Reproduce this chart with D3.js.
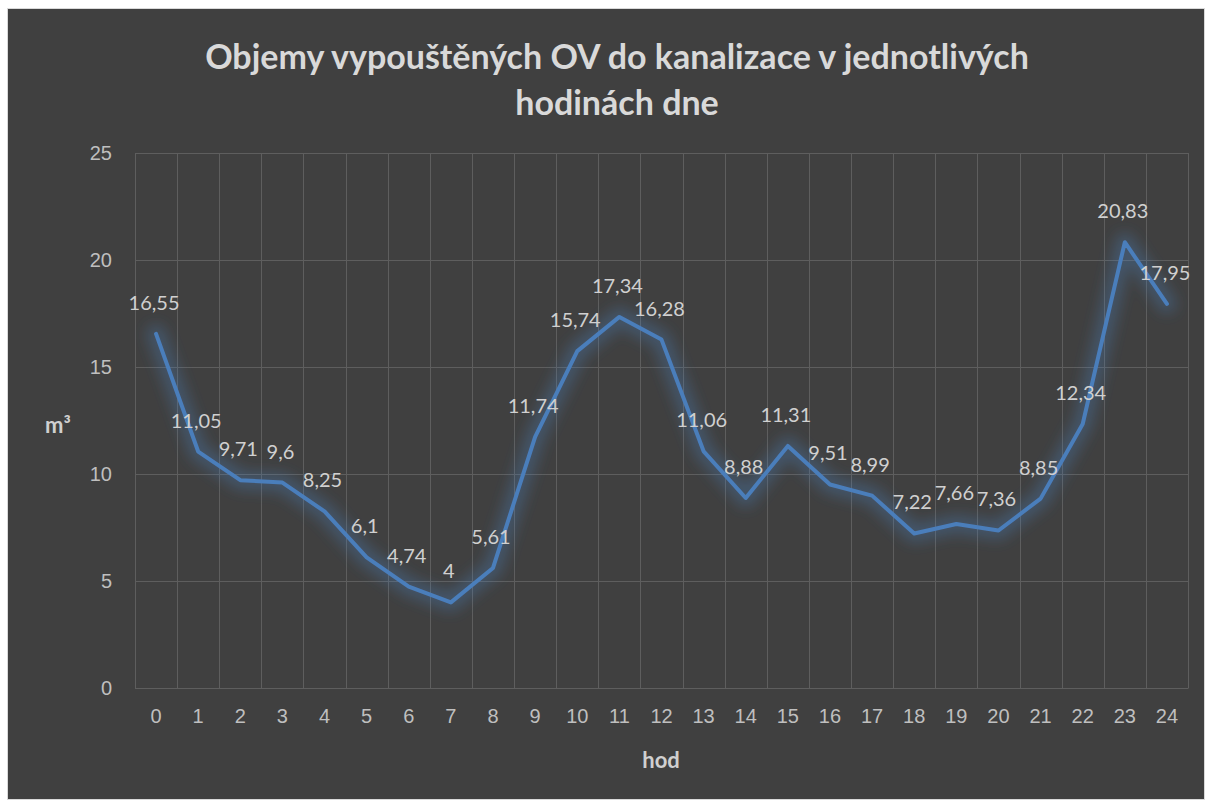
<!DOCTYPE html>
<html lang="cs">
<head>
<meta charset="UTF-8">
<title>Objemy vypouštěných OV</title>
<script src="https://d3js.org/d3.v7.min.js"></script>
<style>
  body { margin: 0; background: #ffffff; }
  svg { display: block; font-family: Lato, "Open Sans", sans-serif; }
</style>
</head>
<body>
<script>
// hours of the day and discharged volume (m³)
const hours = ["0","1","2","3","4","5","6","7","8","9","10","11","12","13","14","15","16","17","18","19","20","21","22","23","24"];
const volumes = [16.55, 11.05, 9.71, 9.6, 8.25, 6.1, 4.74, 4, 5.61, 11.74, 15.74, 17.34, 16.28, 11.06, 8.88, 11.31, 9.51, 8.99, 7.22, 7.66, 7.36, 8.85, 12.34, 20.83, 17.95];
const yTicks = [0, 5, 10, 15, 20, 25];

const W = 1206, H = 800;
const margin = { top: 153, right: 18, bottom: 112, left: 135 };

const svg = d3.select("body").append("svg")
    .attr("width", W)
    .attr("height", H);

svg.append("rect")
    .attr("x", 7.5).attr("y", 8.5)
    .attr("width", W - 9).attr("height", H - 9)
    .attr("fill", "#404040")
    .attr("stroke", "#d9d9d9");

const defs = svg.append("defs");
const glow = defs.append("filter").attr("id", "glow")
    .attr("x", "-20%").attr("y", "-20%").attr("width", "140%").attr("height", "140%");
glow.append("feGaussianBlur").attr("stdDeviation", 7);

const x = d3.scaleBand()
    .domain(hours)
    .range([margin.left, W - margin.right]);

const y = d3.scaleLinear()
    .domain([0, 25])
    .range([H - margin.bottom, margin.top]);

// horizontal gridlines
svg.append("g")
    .attr("transform", `translate(${margin.left},0)`)
    .call(d3.axisLeft(y).tickValues(yTicks).tickSize(-(W - margin.left - margin.right)).tickFormat(""))
    .call(g => g.select(".domain").remove())
    .call(g => g.selectAll("line").attr("stroke", "#5e5e5e").attr("stroke-width", 1));

// vertical gridlines on category boundaries
const bounds = hours.map(h => x(h)).concat([x.range()[1]]);
svg.append("g")
    .selectAll("line")
    .data(bounds)
    .join("line")
    .attr("x1", d => Math.round(d) + 0.5).attr("x2", d => Math.round(d) + 0.5)
    .attr("y1", y(25)).attr("y2", y(0))
    .attr("stroke", "#5e5e5e");

// y tick labels
svg.append("g")
    .attr("transform", `translate(${margin.left},0)`)
    .call(d3.axisLeft(y).tickValues(yTicks).tickSize(0).tickPadding(23))
    .call(g => g.select(".domain").remove())
    .call(g => g.selectAll("text").attr("fill", "#bfbfbf").style("font-size", "20px"));

// x axis
svg.append("g")
    .attr("transform", `translate(0,${y(0)})`)
    .call(d3.axisBottom(x).tickSize(0).tickPadding(21))
    .call(g => g.select(".domain").attr("stroke", "#5e5e5e"))
    .call(g => g.selectAll("text").attr("fill", "#bfbfbf").style("font-size", "20px"));

const line = d3.line()
    .x((d, i) => x(hours[i]) + x.bandwidth() / 2)
    .y(d => y(d));

svg.append("path")
    .datum(volumes)
    .attr("d", line)
    .attr("fill", "none")
    .attr("stroke", "#4a7ebb")
    .attr("stroke-width", 18)
    .attr("stroke-opacity", 0.35)
    .attr("stroke-linejoin", "round")
    .attr("stroke-linecap", "round")
    .attr("filter", "url(#glow)");

svg.append("path")
    .datum(volumes)
    .attr("d", line)
    .attr("fill", "none")
    .attr("stroke", "#4a7ebb")
    .attr("stroke-width", 4)
    .attr("stroke-linejoin", "round")
    .attr("stroke-linecap", "round");

// data labels
const fmt = v => String(v).replace(".", ",");
svg.append("g")
    .selectAll("text")
    .data(volumes)
    .join("text")
    .attr("x", (d, i) => x(hours[i]) + x.bandwidth() / 2 - 2)
    .attr("y", d => y(d) - 24)
    .attr("text-anchor", "middle")
    .attr("fill", "#d0d0d0")
    .style("font-size", "20px")
    .text(fmt);

// titles
const title = svg.append("text")
    .attr("text-anchor", "middle")
    .attr("fill", "#d9d9d9")
    .style("font-size", "34px")
    .style("font-weight", "bold");
title.append("tspan").attr("x", 617).attr("y", 69).text("Objemy vypouštěných OV do kanalizace v jednotlivých");
title.append("tspan").attr("x", 617).attr("y", 115).text("hodinách dne");

svg.append("text")
    .attr("x", 661).attr("y", 768)
    .attr("text-anchor", "middle")
    .attr("fill", "#d0d0d0")
    .style("font-size", "22px")
    .style("font-weight", "bold")
    .text("hod");

svg.append("text")
    .attr("x", 58).attr("y", 433)
    .attr("text-anchor", "middle")
    .attr("fill", "#d0d0d0")
    .style("font-size", "22px")
    .style("font-weight", "bold")
    .text("m³");
</script>
</body>
</html>
